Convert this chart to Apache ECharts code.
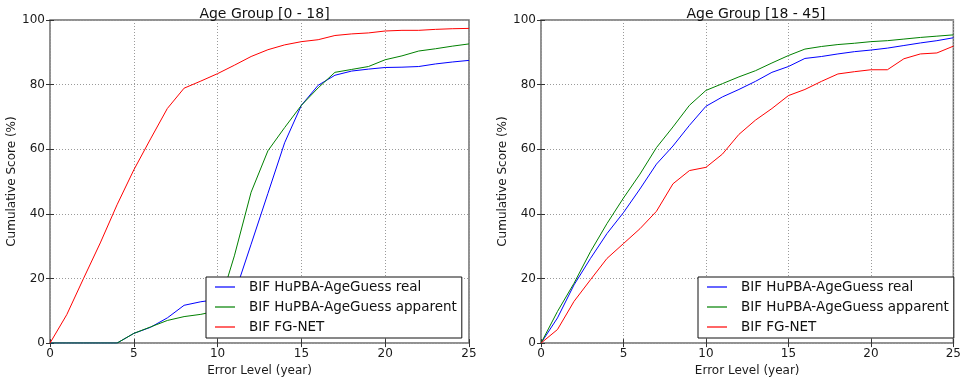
<!DOCTYPE html>
<html>
<head>
<meta charset="utf-8">
<script src="https://cdn.jsdelivr.net/npm/echarts@6/dist/echarts.min.js"></script>
<style>
  html, body { margin: 0; padding: 0; background: #fff; }
  #chart { width: 964px; height: 382px; }
</style>
</head>
<body>
<div id="chart"></div>
<script>
// Error levels (years) shared by both panels
const errorLevels = [0, 1, 2, 3, 4, 5, 6, 7, 8, 9, 10, 11, 12, 13, 14, 15, 16, 17, 18, 19, 20, 21, 22, 23, 24, 25];

const seriesNames = ['BIF HuPBA-AgeGuess real', 'BIF HuPBA-AgeGuess apparent', 'BIF FG-NET'];
const panelTitles = ['Age Group [0 - 18]', 'Age Group [18 - 45]'];

// Cumulative score (%) — age group 0-18
const young_real     = [0, 0, 0, 0, 0, 3.0, 4.9, 7.8, 11.7, 12.8, 13.5, 15, 30.6, 46.3, 62, 73.6, 79.8, 82.9, 84.2, 84.8, 85.3, 85.4, 85.6, 86.4, 87.0, 87.5];
const young_apparent = [0, 0, 0, 0, 0, 3.0, 5.0, 7.0, 8.2, 8.9, 10, 27, 46.7, 59.5, 66.7, 73.6, 79.0, 83.8, 84.7, 85.6, 87.7, 88.9, 90.4, 91.1, 91.9, 92.6];
const young_fgnet    = [0, 8.8, 20, 31, 42.8, 53.6, 63.2, 72.6, 78.9, 81.1, 83.4, 86.0, 88.7, 90.8, 92.3, 93.3, 93.9, 95.2, 95.7, 96.0, 96.6, 96.8, 96.8, 97.1, 97.3, 97.4];

// Cumulative score (%) — age group 18-45
const adult_real     = [0, 7.8, 18, 26.2, 33.9, 40.4, 47.7, 55.4, 61.0, 67.4, 73.3, 76.2, 78.5, 81.0, 83.8, 85.6, 88.1, 88.7, 89.5, 90.2, 90.7, 91.3, 92.1, 92.9, 93.6, 94.5];
const adult_apparent = [0, 9.8, 18.5, 28.3, 37.0, 44.9, 52.3, 60.5, 66.9, 73.6, 78.2, 80.3, 82.4, 84.3, 86.7, 89.0, 91.0, 91.8, 92.4, 92.8, 93.3, 93.6, 94.1, 94.6, 95.0, 95.4];
const adult_fgnet    = [0, 4.2, 12.9, 19.6, 26.2, 30.8, 35.4, 40.8, 49.3, 53.4, 54.4, 58.5, 64.6, 69.0, 72.6, 76.6, 78.5, 81.0, 83.3, 84.0, 84.6, 84.6, 88.0, 89.5, 89.8, 91.9];

const xTicks = { min: 0, max: 25, interval: 5 };
const yTicks = { min: 0, max: 100, interval: 20 };

const colors = ['#0000ff', '#008000', '#ff0000'];
const FONT = 'DejaVu Sans';

const panels = [
  { left: 50, width: 419, data: [young_real, young_apparent, young_fgnet] },
  { left: 541, width: 420, data: [adult_real, adult_apparent, adult_fgnet] }
];
const TOP = 20, HEIGHT = 325;
const LEGEND_W = 256;

const pairs = (ys) => errorLevels.map((x, i) => [x, ys[i]]);

const grid = [], xAxis = [], yAxis = [], series = [], title = [], legend = [];

const gridLine = { show: true, lineStyle: { color: '#9a9a9a', type: [1, 2], width: 1 } };
const tickIn = { show: true, inside: true, length: 4, lineStyle: { color: '#333' } };
const labelStyle = { color: '#1a1a1a', fontFamily: FONT, fontSize: 12 };

panels.forEach((p, gi) => {
  grid.push({
    left: p.left, top: TOP, width: p.width, height: HEIGHT,
    show: true, borderColor: '#6e6e6e', borderWidth: 1.5, backgroundColor: 'transparent'
  });
  // bottom axis with labels
  xAxis.push({
    type: 'value', gridIndex: gi, min: xTicks.min, max: xTicks.max, interval: xTicks.interval,
    position: 'bottom',
    name: 'Error Level (year)', nameLocation: 'middle', nameGap: 21,
    nameTextStyle: { color: '#1a1a1a', fontFamily: FONT, fontSize: 12 },
    axisLine: { show: false }, axisTick: tickIn,
    axisLabel: Object.assign({ margin: 5 }, labelStyle),
    splitLine: gridLine
  });
  // top axis: ticks only
  xAxis.push({
    type: 'value', gridIndex: gi, min: xTicks.min, max: xTicks.max, interval: xTicks.interval,
    position: 'top', axisLine: { show: false }, axisTick: tickIn,
    axisLabel: { show: false }, splitLine: { show: false }
  });
  yAxis.push({
    type: 'value', gridIndex: gi, min: yTicks.min, max: yTicks.max, interval: yTicks.interval,
    position: 'left',
    name: 'Cumulative Score (%)', nameLocation: 'middle', nameGap: 29, nameRotate: 90,
    nameTextStyle: { color: '#1a1a1a', fontFamily: FONT, fontSize: 12 },
    axisLine: { show: false }, axisTick: tickIn,
    axisLabel: Object.assign({ margin: 5 }, labelStyle),
    splitLine: gridLine
  });
  // right axis: ticks only
  yAxis.push({
    type: 'value', gridIndex: gi, min: yTicks.min, max: yTicks.max, interval: yTicks.interval,
    position: 'right', axisLine: { show: false }, axisTick: tickIn,
    axisLabel: { show: false }, splitLine: { show: false }
  });

  title.push({
    text: panelTitles[gi],
    left: p.left + p.width / 2, top: 2, textAlign: 'center',
    textStyle: { color: '#111', fontFamily: FONT, fontSize: 14, fontWeight: 'normal' }
  });

  p.data.forEach((ys, si) => {
    series.push({
      type: 'line', name: seriesNames[si],
      xAxisIndex: gi * 2, yAxisIndex: gi * 2,
      data: pairs(ys), showSymbol: false, symbol: 'none',
      lineStyle: { color: colors[si], width: 1 }, itemStyle: { color: colors[si] },
      z: 3 + si, animation: false
    });
  });

  legend.push({
    data: seriesNames.map((n, si) => ({ name: n, icon: 'rect', itemStyle: { color: colors[si] } })),
    orient: 'vertical',
    left: p.left + p.width - 7 - LEGEND_W, top: 277,
    width: LEGEND_W,
    itemWidth: 20, itemHeight: 1.2, itemGap: 6,
    padding: [3, 5, 4, 9],
    backgroundColor: '#fff', borderColor: '#111', borderWidth: 1,
    textStyle: { color: '#111', fontFamily: FONT, fontSize: 13.5, padding: [0, 0, 0, 9] },
    selectedMode: false, z: 10
  });
});

const chart = echarts.init(document.getElementById('chart'), null, { renderer: 'canvas' });
chart.setOption({
  animation: false,
  backgroundColor: '#fff',
  title, grid, xAxis, yAxis, legend, series
});
</script>
</body>
</html>
